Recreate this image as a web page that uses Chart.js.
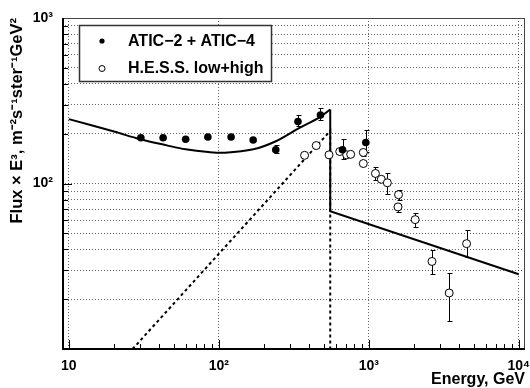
<!DOCTYPE html>
<html>
<head>
<meta charset="utf-8">
<script src="https://cdn.jsdelivr.net/npm/chart.js"></script>
<style>
  html, body { margin: 0; padding: 0; background: #fff; }
  #wrap { width: 530px; height: 388px; }
</style>
</head>
<body>
<div id="wrap"><canvas id="chart" width="530" height="388"></canvas></div>
<script>
// ATIC-2 + ATIC-4 (filled points)
const aticEnergy = [30.2, 42.5, 60.1, 84.5, 120.7, 169.4, 239.7, 337, 476, 668, 955];
const aticFlux   = [189, 189, 185, 191, 191, 183, 160, 237, 259, 160, 177];
const aticLow    = [null, null, null, null, null, null, 152, 222, 241, 140, 155];
const aticHigh   = [null, null, null, null, null, null, 172, 259, 284, 185, 210];

// H.E.S.S. low + high (open points)
const hessEnergy = [373, 446, 543, 640, 712, 757, 919, 919, 1107, 1212, 1329, 1578, 1565, 2037, 2637, 3435, 4487];
const hessFlux   = [148, 169.5, 149, 156, 149, 150, 154, 132, 115, 106, 101, 85.6, 72.2, 60.5, 33.8, 21.8, 43.3];
const hessLow    = [null, null, null, null, null, null, 146, null, 105, null, 86, 79, 66.8, 54.9, 28.3, 14.7, 36.2];
const hessHigh   = [null, null, null, null, null, null, 162, null, 126, null, 116, 91, 75.7, 66.4, 39.7, 28.8, 52.2];

// model: smooth total below the cutoff, then background only
const curveEnergy = [10, 20, 30, 45, 60, 85, 110, 170, 240, 340, 475, 553];
const curveFlux   = [245, 206, 185, 170, 161, 155, 153.5, 161, 180, 215, 253, 280];
const tailEnergy  = [553, 553, 10000];
const tailFlux    = [280, 68, 28.3];

// source component (dashed)
const sourceEnergy = [26.6, 553, 553];
const sourceFlux   = [10, 208, 10];

// axes
const xTickValues = [10, 20, 30, 40, 50, 60, 70, 80, 90,
  100, 200, 300, 400, 500, 600, 700, 800, 900,
  1000, 2000, 3000, 4000, 5000, 6000, 7000, 8000, 9000, 10000];
const xLabelValues = [10, 100, 1000, 10000];
const xLabelText   = ['10', '10\u00B2', '10\u00B3', '10\u2074'];
const yTickValues = [10, 20, 30, 40, 50, 60, 70, 80, 90,
  100, 200, 300, 400, 500, 600, 700, 800, 900, 1000];
const yLabelValues = [100, 1000];
const yLabelText   = ['10\u00B2', '10\u00B3'];

const xTitle = 'Energy, GeV';
const yTitle = 'Flux \u00D7 E\u00B3, m\u207B\u00B2s\u207B\u00B9ster\u207B\u00B9GeV\u00B2';
const legendLabels = ['ATIC\u22122 + ATIC\u22124', 'H.E.S.S. low+high'];

const FONT = '"Liberation Sans", Arial, sans-serif';
const gridColor = 'rgba(0,0,0,0.6)';

const pts = (xs, ys) => xs.map((x, i) => ({ x: x, y: ys[i] }));

const errorBars = {
  id: 'errorBars',
  beforeDatasetsDraw(chart) {
    const { ctx, scales: { x, y } } = chart;
    ctx.save();
    ctx.strokeStyle = '#000';
    ctx.lineWidth = 1;
    const draw = (es, lo, hi) => es.forEach((e, i) => {
      if (lo[i] == null) return;
      const px = Math.round(x.getPixelForValue(e)) + 0.5;
      const y1 = Math.round(y.getPixelForValue(hi[i])) + 0.5;
      const y2 = Math.round(y.getPixelForValue(lo[i])) + 0.5;
      ctx.beginPath();
      ctx.moveTo(px, y1); ctx.lineTo(px, y2);
      ctx.moveTo(px - 2, y1); ctx.lineTo(px + 3, y1);
      ctx.moveTo(px - 2, y2); ctx.lineTo(px + 3, y2);
      ctx.stroke();
    });
    draw(aticEnergy, aticLow, aticHigh);
    draw(hessEnergy, hessLow, hessHigh);
    ctx.restore();
  }
};

const frameAndLegend = {
  id: 'frameAndLegend',
  afterDraw(chart) {
    const { ctx, chartArea: a, scales: { x, y } } = chart;
    ctx.save();
    ctx.strokeStyle = '#000';
    // inward tick marks
    ctx.lineWidth = 1;
    ctx.beginPath();
    xTickValues.forEach(v => {
      const px = Math.round(x.getPixelForValue(v)) + 0.5;
      const len = xLabelValues.includes(v) ? 9 : 5;
      ctx.moveTo(px, a.bottom); ctx.lineTo(px, a.bottom - len);
    });
    yTickValues.forEach(v => {
      const py = Math.round(y.getPixelForValue(v)) + 0.5;
      const len = yLabelValues.includes(v) ? 10 : 6;
      ctx.moveTo(a.left, py); ctx.lineTo(a.left + len, py);
    });
    ctx.stroke();
    // frame
    ctx.strokeStyle = '#444';
    ctx.strokeRect(a.left + 0.5, a.top + 0.5, a.right - a.left - 1, a.bottom - a.top);
    ctx.strokeStyle = '#000';
    ctx.lineWidth = 2;
    ctx.beginPath();
    ctx.moveTo(a.left + 1, a.top);
    ctx.lineTo(a.left + 1, a.bottom);
    ctx.lineTo(a.right, a.bottom);
    ctx.stroke();

    // x axis title, right aligned at the frame edge
    ctx.fillStyle = '#000';
    ctx.font = 'bold 16px ' + FONT;
    ctx.textAlign = 'right';
    ctx.textBaseline = 'middle';
    ctx.fillText(xTitle, a.right, 380);

    // legend
    ctx.fillStyle = '#fff';
    ctx.fillRect(79, 25, 193, 57);
    ctx.lineWidth = 1.5;
    ctx.strokeStyle = '#333';
    ctx.strokeRect(79.5, 25.5, 192, 56);
    ctx.fillStyle = '#000';
    ctx.beginPath();
    ctx.arc(102, 41, 2.6, 0, Math.PI * 2);
    ctx.fill();
    ctx.lineWidth = 1;
    ctx.strokeStyle = '#000';
    ctx.beginPath();
    ctx.arc(102, 68.5, 3, 0, Math.PI * 2);
    ctx.stroke();
    ctx.font = 'bold 16px ' + FONT;
    ctx.textBaseline = 'middle';
    ctx.textAlign = 'left';
    ctx.fillText(legendLabels[0], 128, 42);
    ctx.fillText(legendLabels[1], 128, 69);
    ctx.restore();
  }
};

new Chart(document.getElementById('chart'), {
  type: 'scatter',
  data: {
    datasets: [
      {
        label: legendLabels[0],
        data: pts(aticEnergy, aticFlux),
        pointStyle: 'circle',
        pointRadius: 3.8,
        backgroundColor: '#000',
        borderColor: '#000',
        borderWidth: 0,
        order: 0
      },
      {
        label: legendLabels[1],
        data: pts(hessEnergy, hessFlux),
        pointStyle: 'circle',
        pointRadius: 4,
        backgroundColor: '#fff',
        borderColor: '#000',
        borderWidth: 1,
        order: 0
      },
      {
        label: 'model',
        data: pts(curveEnergy, curveFlux),
        showLine: true,
        pointRadius: 0,
        borderColor: '#000',
        borderWidth: 2,
        tension: 0.35,
        order: 1
      },
      {
        label: 'model tail',
        data: pts(tailEnergy, tailFlux),
        showLine: true,
        pointRadius: 0,
        borderColor: '#000',
        borderWidth: 2,
        tension: 0,
        order: 1
      },
      {
        label: 'source',
        data: pts(sourceEnergy, sourceFlux),
        showLine: true,
        pointRadius: 0,
        borderColor: '#000',
        borderWidth: 2,
        borderDash: [3, 3],
        tension: 0,
        order: 2
      }
    ]
  },
  options: {
    responsive: false,
    animation: false,
    devicePixelRatio: 1,
    layout: { padding: { top: 18, right: 2, left: 0, bottom: 0 } },
    plugins: {
      legend: { display: false },
      tooltip: { enabled: false }
    },
    scales: {
      x: {
        type: 'logarithmic',
        position: 'bottom',
        min: 9,
        max: 11000,
        afterBuildTicks: s => { s.ticks = xTickValues.map(v => ({ value: v })); },
        afterFit: s => { s.height = 39; s.paddingLeft = 0; s.paddingRight = 0; },
        ticks: {
          autoSkip: false,
          maxRotation: 0,
          padding: 9,
          color: '#000',
          font: { family: FONT, size: 14, weight: 'bold' },
          callback: v => {
            const i = xLabelValues.indexOf(v);
            return i >= 0 ? xLabelText[i] : '';
          }
        },
        grid: {
          drawTicks: false,
          lineWidth: 1,
          color: c => (c.tick && xLabelValues.includes(c.tick.value)) ? gridColor : 'rgba(0,0,0,0)'
        },
        border: { display: false, dash: [1, 2] }
      },
      y: {
        type: 'logarithmic',
        position: 'left',
        min: 10,
        max: 1000,
        afterBuildTicks: s => { s.ticks = yTickValues.map(v => ({ value: v })); },
        afterFit: s => { s.width = 62; s.paddingTop = 0; s.paddingBottom = 0; },
        ticks: {
          autoSkip: false,
          padding: 9,
          color: '#000',
          font: { family: FONT, size: 14, weight: 'bold' },
          callback: v => {
            const i = yLabelValues.indexOf(v);
            return i >= 0 ? yLabelText[i] : '';
          }
        },
        grid: {
          drawTicks: false,
          lineWidth: 1,
          color: gridColor
        },
        border: { display: false, dash: [1, 2] },
        title: {
          display: true,
          text: yTitle,
          align: 'end',
          color: '#000',
          font: { family: FONT, size: 16.5, weight: 'bold' },
          padding: { top: 8, bottom: 0 }
        }
      }
    }
  },
  plugins: [errorBars, frameAndLegend]
});
</script>
</body>
</html>
